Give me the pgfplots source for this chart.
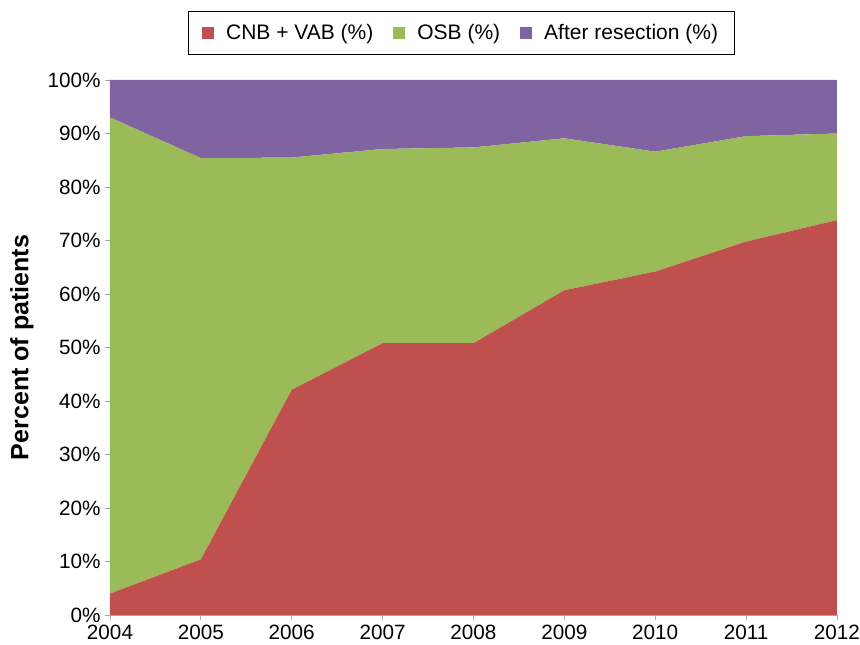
\documentclass[border=0pt]{standalone}
\usepackage{fontspec}
\setmainfont{Liberation Sans}
\usepackage{pgfplots}
\pgfplotsset{compat=1.18}
\definecolor{cred}{HTML}{C0504D}
\definecolor{cgreen}{HTML}{9BBB59}
\definecolor{cpurple}{HTML}{8064A2}
\definecolor{axgray}{HTML}{A6A6A6}
\begin{document}
\begin{tikzpicture}
\useasboundingbox (-110pt,-30pt) rectangle (750pt,615pt);
\begin{axis}[
  at={(0pt,0pt)}, anchor=south west,
  scale only axis, width=727pt, height=535pt,
  xmin=2004, xmax=2012, ymin=0, ymax=100,
  stack plots=y,
  axis x line*=bottom, axis y line*=left,
  axis line style={axgray, line width=0.8pt},
  tick style={axgray, line width=0.8pt},
  tick align=outside, major tick length=5pt,
  xtick={2004,2005,...,2012},
  ytick={0,10,...,100},
  /pgf/number format/assume math mode=true,
  xticklabel style={/pgf/number format/1000 sep={}},
  yticklabel={\pgfmathprintnumber{\tick}\%},
  ticklabel style={font=\fontsize{20.7}{23}\selectfont},
  xticklabel style={yshift=-2pt},
  yticklabel style={xshift=-1pt},
  ylabel={Percent of patients},
  ylabel style={at={(axis description cs:-0.121,0.5)}, anchor=center, font=\fontsize{25}{29}\selectfont\bfseries},
  legend columns=3,
  legend cell align=left,
  legend style={at={(axis description cs:0.483,1.088)}, anchor=center, draw=black, line width=0.8pt,
    font=\fontsize{21}{24}\selectfont, inner xsep=14pt, inner ysep=11pt,
    /tikz/every odd column/.append style={column sep=10pt},
    /tikz/every even column/.append style={column sep=18pt}},
  legend image code/.code={\fill[#1] (0pt,-6pt) rectangle (12pt,6pt);},
  clip=false,
]
\addplot[fill=cred, draw=none] coordinates {
 (2004,4.0) (2005,10.4) (2006,42.1) (2007,50.8) (2008,50.8) (2009,60.7) (2010,64.2) (2011,69.8) (2012,73.8)
} \closedcycle;
\addlegendentry{CNB + VAB (\%)}
\addplot[fill=cgreen, draw=none] coordinates {
 (2004,89.0) (2005,75.0) (2006,43.4) (2007,36.3) (2008,36.6) (2009,28.4) (2010,22.4) (2011,19.7) (2012,16.2)
} \closedcycle;
\addlegendentry{OSB (\%)}
\addplot[fill=cpurple, draw=none] coordinates {
 (2004,7.0) (2005,14.6) (2006,14.5) (2007,12.9) (2008,12.6) (2009,10.9) (2010,13.4) (2011,10.5) (2012,10.0)
} \closedcycle;
\addlegendentry{After resection (\%)}
\end{axis}
\end{tikzpicture}
\end{document}
